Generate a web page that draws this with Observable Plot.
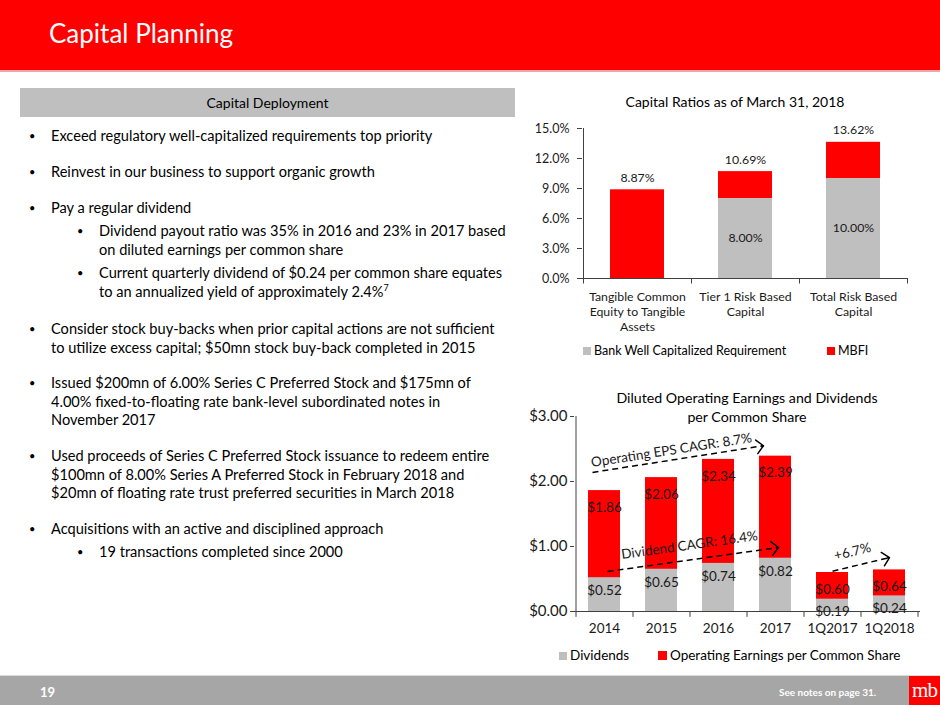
<!DOCTYPE html>
<html>
<head>
<meta charset="utf-8">
<script src="https://cdn.jsdelivr.net/npm/d3@7"></script>
<script src="https://cdn.jsdelivr.net/npm/@observablehq/plot@0.6"></script>
<style>
  body { margin: 0; background: #fff; }
  #slide { position: relative; width: 940px; height: 705px; background: #fff; overflow: hidden;
           font-family: Lato, "Noto Sans", sans-serif; color: #000; }
  #header { position: absolute; left: 0; top: 0; width: 940px; height: 70px; background: #ff0000;
            border-bottom: 2px solid #f6a3a3; }
  #title { position: absolute; left: 49px; top: 17px; font-size: 26px; color: #fff; white-space: nowrap; }
  #deploy { position: absolute; left: 20px; top: 88px; width: 495px; height: 29px; background: #bfbfbf;
            font-size: 14px; line-height: 29px; text-align: center; }
  .b { position: absolute; font-size: 14.6px; line-height: 18.7px; white-space: nowrap; }
  .b::before { content: "•"; position: absolute; left: -22px; font-size: 11px; }
  .l1 { left: 51px; }
  .l2 { left: 99px; }
  .ctitle { position: absolute; font-size: 14px; text-align: center; white-space: nowrap; line-height: 19px; }
  .legend { position: absolute; white-space: nowrap; }
  .sw { display: inline-block; width: 8px; height: 8px; margin-right: 3px; vertical-align: 0px; }
  #footer { position: absolute; left: 0; top: 675px; width: 940px; height: 30px; background: #a6a6a6;
            border-top: 1px solid #d9d9d9; }
  #pnum { position: absolute; left: 40px; top: 8px; font-size: 13px; font-weight: bold; color: #fff; }
  #notes { position: absolute; left: 779px; top: 10px; font-size: 10px; font-weight: bold; color: #fff; }
  #logo { position: absolute; left: 909px; top: 0; width: 31px; height: 30px; background: #ff0000;
          color: #fff; font-family: "Liberation Serif", "DejaVu Serif", serif; font-size: 21px;
          line-height: 28px; text-align: center; letter-spacing: -1px; }
  .chart { position: absolute; }
</style>
</head>
<body>
<div id="slide">
  <div id="header"><div id="title">Capital Planning</div></div>
  <div id="deploy">Capital Deployment</div>

  <div class="b l1" style="top:127px">Exceed regulatory well-capitalized requirements top priority</div>
  <div class="b l1" style="top:163px">Reinvest in our business to support organic growth</div>
  <div class="b l1" style="top:199px">Pay a regular dividend</div>
  <div class="b l2" style="top:222px">Dividend payout ratio was 35% in 2016 and 23% in 2017 based<br>on diluted earnings per common share</div>
  <div class="b l2" style="top:264px">Current quarterly dividend of $0.24 per common share equates<br>to an annualized yield of approximately 2.4%<sup style="font-size:9px;line-height:0">7</sup></div>
  <div class="b l1" style="top:320px">Consider stock buy-backs when prior capital actions are not sufficient<br>to utilize excess capital; $50mn stock buy-back completed in 2015</div>
  <div class="b l1" style="top:374px">Issued $200mn of 6.00% Series C Preferred Stock and $175mn of<br>4.00% fixed-to-floating rate bank-level subordinated notes in<br>November 2017</div>
  <div class="b l1" style="top:447px">Used proceeds of Series C Preferred Stock issuance to redeem entire<br>$100mn of 8.00% Series A Preferred Stock in February 2018 and<br>$20mn of floating rate trust preferred securities in March 2018</div>
  <div class="b l1" style="top:520px">Acquisitions with an active and disciplined approach</div>
  <div class="b l2" style="top:543px">19 transactions completed since 2000</div>

  <div class="ctitle" style="left:520px;width:430px;top:92px">Capital Ratios as of March 31, 2018</div>
  <div id="top" class="chart" style="left:520px;top:115px"></div>
  <div class="legend" style="left:583px;top:343px;font-size:12.5px">
    <span class="sw" style="background:#bfbfbf"></span>Bank Well Capitalized Requirement
  </div>
  <div class="legend" style="left:827px;top:343px;font-size:12.5px">
    <span class="sw" style="background:#ff0000"></span>MBFI
  </div>

  <div class="ctitle" style="left:530px;width:434px;top:388px;font-size:14.2px">Diluted Operating Earnings and Dividends<br>per Common Share</div>
  <div id="bottom" class="chart" style="left:520px;top:400px"></div>
  <div class="legend" style="left:559px;top:647px;font-size:13.5px">
    <span class="sw" style="background:#bfbfbf"></span>Dividends
  </div>
  <div class="legend" style="left:658px;top:647px;font-size:13.5px">
    <span class="sw" style="background:#ff0000;width:9px;height:9px"></span>Operating Earnings per Common Share
  </div>

  <div id="footer">
    <div id="pnum">19</div>
    <div id="notes">See notes on page 31.</div>
    <div id="logo">mb</div>
  </div>
</div>

<script>
// ---------- Data: Capital Ratios ----------
const ratioCategories = ["Tangible Common Equity to Tangible Assets", "Tier 1 Risk Based Capital", "Total Risk Based Capital"];
const ratioTickLabels = ["Tangible Common\nEquity to Tangible\nAssets", "Tier 1 Risk Based\nCapital", "Total Risk Based\nCapital"];
const mbfiRatios = [8.87, 10.69, 13.62];
const wellCapitalizedReq = [null, 8.00, 10.00];
const ratioTicks = [0, 3, 6, 9, 12, 15];

// ---------- Data: EPS & Dividends ----------
const periods = ["2014", "2015", "2016", "2017", "1Q2017", "1Q2018"];
const operatingEps = [1.86, 2.06, 2.34, 2.39, 0.60, 0.64];
const dividends = [0.52, 0.65, 0.74, 0.82, 0.19, 0.24];
const epsTicks = [0, 1, 2, 3];
const trendNotes = [
  {from: "2014", to: "2017", v1: 2.14, v2: 2.55, shift: -12, label: "Operating EPS CAGR: 8.7%", at: "2015", labelV: 2.48, labelDx: 10},
  {from: "2014", to: "2017", v1: 0.615, v2: 0.985, shift: 3, label: "Dividend CAGR: 16.4%", at: "2015", labelV: 1.02, labelDx: 28},
  {from: "1Q2017", to: "1Q2018", v1: 0.62, v2: 0.83, shift: 0, label: "+6.7%", at: "1Q2017", labelV: 0.92, labelDx: 20}
];

const RED = "#ff0000", GRAY = "#bfbfbf", AXIS = "#404040", INK = "#1a1a1a";

// ---------- Top chart ----------
const ratioRows = ratioCategories.map((c, i) => ({cat: c, tick: ratioTickLabels[i], mbfi: mbfiRatios[i], req: wellCapitalizedReq[i]}));
const reqRows = ratioRows.filter(d => d.req != null);

const topBase = {
  width: 400, height: 235,
  marginLeft: 62, marginRight: 12, marginTop: 13, marginBottom: 72,
  style: {background: "transparent", overflow: "visible", fontFamily: "Lato, 'Noto Sans', sans-serif"},
  x: {domain: ratioCategories, paddingInner: 0.5, paddingOuter: 0.25, axis: null},
  y: {domain: [0, 15], axis: null}
};
function topMarks(step) {
  return [
    Plot.barY(ratioRows, {x: "cat", y: "mbfi", fill: RED}),
    Plot.barY(reqRows, {x: "cat", y: "req", fill: GRAY}),
    Plot.ruleY([0], {stroke: AXIS, strokeWidth: 1}),
    Plot.ruleX([ratioCategories[0]], {dx: -step / 2, y1: 0, y2: 15, stroke: AXIS}),
    Plot.ruleX(ratioCategories, {dx: -step / 2, y1: 0, y2: -0.55, stroke: AXIS}),
    Plot.ruleX([ratioCategories[ratioCategories.length - 1]], {dx: step / 2, y1: 0, y2: -0.55, stroke: AXIS}),
    Plot.axisY({ticks: ratioTicks, tickFormat: d => d.toFixed(1) + "%", tickSize: 5, tickPadding: 8, fontSize: 12.5, stroke: AXIS, fill: INK}),
    Plot.text(ratioRows, {x: "cat", y: 0, text: "tick", lineAnchor: "top", dy: 11, lineHeight: 1.26, fontSize: 12.3, fill: INK}),
    Plot.text(ratioRows, {x: "cat", y: "mbfi", text: d => d.mbfi.toFixed(2) + "%", dy: -12, fontSize: 12.3, fill: INK}),
    Plot.text(reqRows, {x: "cat", y: d => d.req / 2, text: d => d.req.toFixed(2) + "%", fontSize: 12.3, fill: INK})
  ];
}
const topPass = Plot.plot({...topBase, marks: [Plot.barY(ratioRows, {x: "cat", y: "mbfi"})]});
const topStep = topPass.scale("x").step;
document.getElementById("top").appendChild(Plot.plot({...topBase, marks: topMarks(topStep)}));

// ---------- Bottom chart ----------
const epsRows = periods.map((p, i) => ({period: p, eps: operatingEps[i], div: dividends[i]}));
const botBase = {
  width: 410, height: 245,
  marginLeft: 54, marginRight: 10, marginTop: 16, marginBottom: 34,
  style: {background: "transparent", overflow: "visible", fontFamily: "Lato, 'Noto Sans', sans-serif"},
  x: {domain: periods, paddingInner: 0.43, paddingOuter: 0.215, axis: null},
  y: {domain: [0, 3], axis: null}
};
const botPass = Plot.plot({...botBase, marks: [Plot.barY(epsRows, {x: "period", y: "eps"})]});
const bx = botPass.scale("x"), by = botPass.scale("y");
const botStep = bx.step;
const cx = p => bx.apply(p) + bx.bandwidth / 2;
const notes = trendNotes.map(n => {
  const ang = Math.atan2(by.apply(n.v2) - by.apply(n.v1), cx(n.to) - cx(n.from)) * 180 / Math.PI;
  return {...n, angle: ang};
});

const botMarks = [
  Plot.barY(epsRows, {x: "period", y: "eps", fill: RED}),
  Plot.barY(epsRows, {x: "period", y: "div", fill: GRAY}),
  Plot.ruleY([0], {stroke: AXIS}),
  Plot.ruleX([periods[0]], {dx: -botStep / 2, y1: 0, y2: 3, stroke: AXIS}),
  Plot.ruleX(periods, {dx: -botStep / 2, y1: 0, y2: -0.09, stroke: AXIS}),
  Plot.ruleX([periods[periods.length - 1]], {dx: botStep / 2, y1: 0, y2: -0.09, stroke: AXIS}),
  Plot.axisY({ticks: epsTicks, tickFormat: d => "$" + d.toFixed(2), tickSize: 4, tickPadding: 3, fontSize: 15, stroke: AXIS, fill: INK}),
  Plot.text(epsRows, {x: "period", y: 0, text: "period", dy: 17, fontSize: 13.5, fill: INK}),
  Plot.text(epsRows, {x: "period", y: "eps", text: d => "$" + d.eps.toFixed(2), dy: 17, fontSize: 13.5, fill: INK}),
  Plot.text(epsRows, {x: "period", y: "div", text: d => "$" + d.div.toFixed(2), dy: 13, fontSize: 13.5, fill: INK})
];
notes.forEach(n => {
  botMarks.push(
    Plot.link([n], {x1: "from", x2: "to", y1: "v1", y2: "v2", dx: n.shift, stroke: "#000", strokeWidth: 1.5, strokeDasharray: "6,4"}),
    Plot.vector([n], {x: "to", y: "v2", dx: n.shift, rotate: 90 + n.angle, length: 2, r: 60, anchor: "end", shape: "arrow", stroke: "#000", strokeWidth: 1.5}),
    Plot.text([n], {x: "at", y: "labelV", text: "label", dx: n.labelDx, rotate: n.angle, fontSize: 13.5, fill: INK})
  );
});
document.getElementById("bottom").appendChild(Plot.plot({...botBase, marks: botMarks}));
</script>
</body>
</html>
